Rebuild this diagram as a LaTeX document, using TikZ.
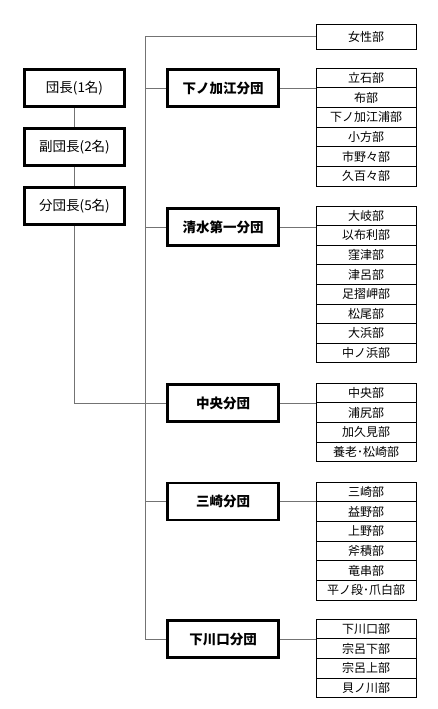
\documentclass[tikz,border=0pt]{standalone}
\usepackage{fontspec}
\setmainfont{Noto Sans CJK JP}
\begin{document}
\begin{tikzpicture}[x=1pt,y=-1pt,
  lead/.style={draw,line width=2.8pt,minimum width=100pt,minimum height=37pt,inner sep=0pt,font=\fontsize{13.5}{14}\selectfont},
  branch/.style={draw,line width=2.8pt,minimum width=111pt,minimum height=37pt,inner sep=0pt,font=\fontsize{13.5}{14}\selectfont\bfseries},
  sub/.style={draw,line width=0.9pt,minimum width=100pt,minimum height=19.7pt,inner sep=0pt,font=\fontsize{12}{12}\selectfont},
  conn/.style={draw=black!55,line width=0.8pt}]
\useasboundingbox (0,0) rectangle (437,709);
% left column
\node[lead] (dancho) at (74.5,88) {団長(1名)};
\node[lead] (fuku) at (74.5,147) {副団長(2名)};
\node[lead] (bundan) at (74.5,206) {分団長(5名)};
% branches
\node[branch] (b1) at (223,88) {下ノ加江分団};
\node[branch] (b2) at (223,227) {清水第一分団};
\node[branch] (b3) at (223,403) {中央分団};
\node[branch] (b4) at (223,501.5) {三崎分団};
\node[branch] (b5) at (223,639) {下川口分団};
% women
\node[sub,minimum height=25pt] (josei) at (366,36.5) {女性部};
% sub lists
\foreach \t [count=\i] in {立石部,布部,下ノ加江浦部,小方部,市野々部,久百々部}
  \node[sub] (a\i) at (366,{77.85+(\i-1)*19.7}) {\t};
\foreach \t [count=\i] in {大岐部,以布利部,窪津部,津呂部,足摺岬部,松尾部,大浜部,中ノ浜部}
  \node[sub] (s\i) at (366,{215.8+(\i-1)*19.6}) {\t};
\foreach \t [count=\i] in {中央部,浦尻部,加久見部,養老･松崎部}
  \node[sub] (c\i) at (366,{392.85+(\i-1)*19.7}) {\t};
\foreach \t [count=\i] in {三崎部,益野部,上野部,斧積部,竜串部,平ノ段･爪白部}
  \node[sub] (m\i) at (366,{491.85+(\i-1)*19.7}) {\t};
\foreach \t [count=\i] in {下川口部,宗呂下部,宗呂上部,貝ノ川部}
  \node[sub] (k\i) at (366,{628.85+(\i-1)*19.7}) {\t};
% connectors
\coordinate (top) at (145,36.5);
\coordinate (bot) at (145,639);
\coordinate (turn) at (74.5,403);
\draw[conn] (dancho) -- (fuku);
\draw[conn] (fuku) -- (bundan);
\draw[conn] (bundan.south) -- (turn) -- (b3.west);
\draw[conn] (top) -- (bot);
\draw[conn] (top) -- (josei.west);
\foreach \b in {b1,b2,b4,b5}
  \draw[conn] (\b.west -| top) -- (\b.west);
\draw[conn] (b1.east) -- (b1.east -| a1.west);
\draw[conn] (b2.east) -- (b2.east -| s1.west);
\draw[conn] (b3.east) -- (b3.east -| c1.west);
\draw[conn] (b4.east) -- (b4.east -| m1.west);
\draw[conn] (b5.east) -- (b5.east -| k1.west);
\end{tikzpicture}
\end{document}
